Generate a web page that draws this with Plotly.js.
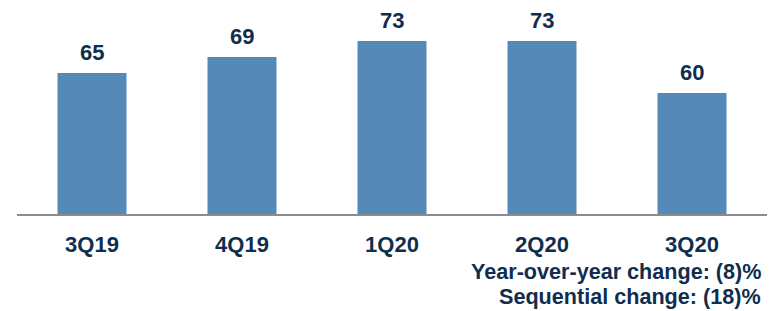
<!DOCTYPE html>
<html>
<head>
<meta charset="utf-8">
<script src="https://cdn.plot.ly/plotly-3.0.1.min.js"></script>
<style>html,body{margin:0;padding:0;background:#fff;}#chart{width:776px;height:311px;}</style>
</head>
<body>
<div id="chart"></div>
<script>
const categories = ['3Q19', '4Q19', '1Q20', '2Q20', '3Q20'];
const values = [65, 69, 73, 73, 60];
const notes = ['Year-over-year change: (8)%', 'Sequential change: (18)%'];

const FONT = 'Liberation Sans, Arial, sans-serif';
const TXT = '#0f2e4f';
const BAR = '#5589b8';

const annotations = categories.map((c, i) => ({
  x: c, y: values[i], xref: 'x', yref: 'y',
  text: '<b>' + values[i] + '</b>', showarrow: false,
  yanchor: 'middle', yshift: 21,
  font: {family: FONT, size: 22, color: TXT}
}));
notes.forEach((t, i) => annotations.push({
  x: 0.994, xref: 'paper', xanchor: 'right',
  y: -0.269 - i * 0.117, yref: 'paper', yanchor: 'middle',
  text: '<b>' + t + '</b>', showarrow: false, align: 'right',
  font: {family: FONT, size: 21.6, color: TXT}
}));

Plotly.newPlot('chart', [{
  type: 'bar', x: categories, y: values,
  marker: {color: BAR}, width: 0.46, hoverinfo: 'none'
}], {
  width: 776, height: 311,
  margin: {l: 17, r: 9, t: 0, b: 97},
  paper_bgcolor: '#fff', plot_bgcolor: '#fff',
  showlegend: false,
  xaxis: {
    showline: true, linecolor: '#8c8c8c', linewidth: 2,
    showgrid: false, zeroline: false, ticks: '',
    ticklabelstandoff: 10,
    tickfont: {family: FONT, size: 22, color: TXT},
    tickprefix: '<b>', ticksuffix: '</b>'
  },
  yaxis: {range: [29.75, 83.25], visible: false, fixedrange: true},
  annotations: annotations
}, {displayModeBar: false, staticPlot: true});
</script>
</body>
</html>
